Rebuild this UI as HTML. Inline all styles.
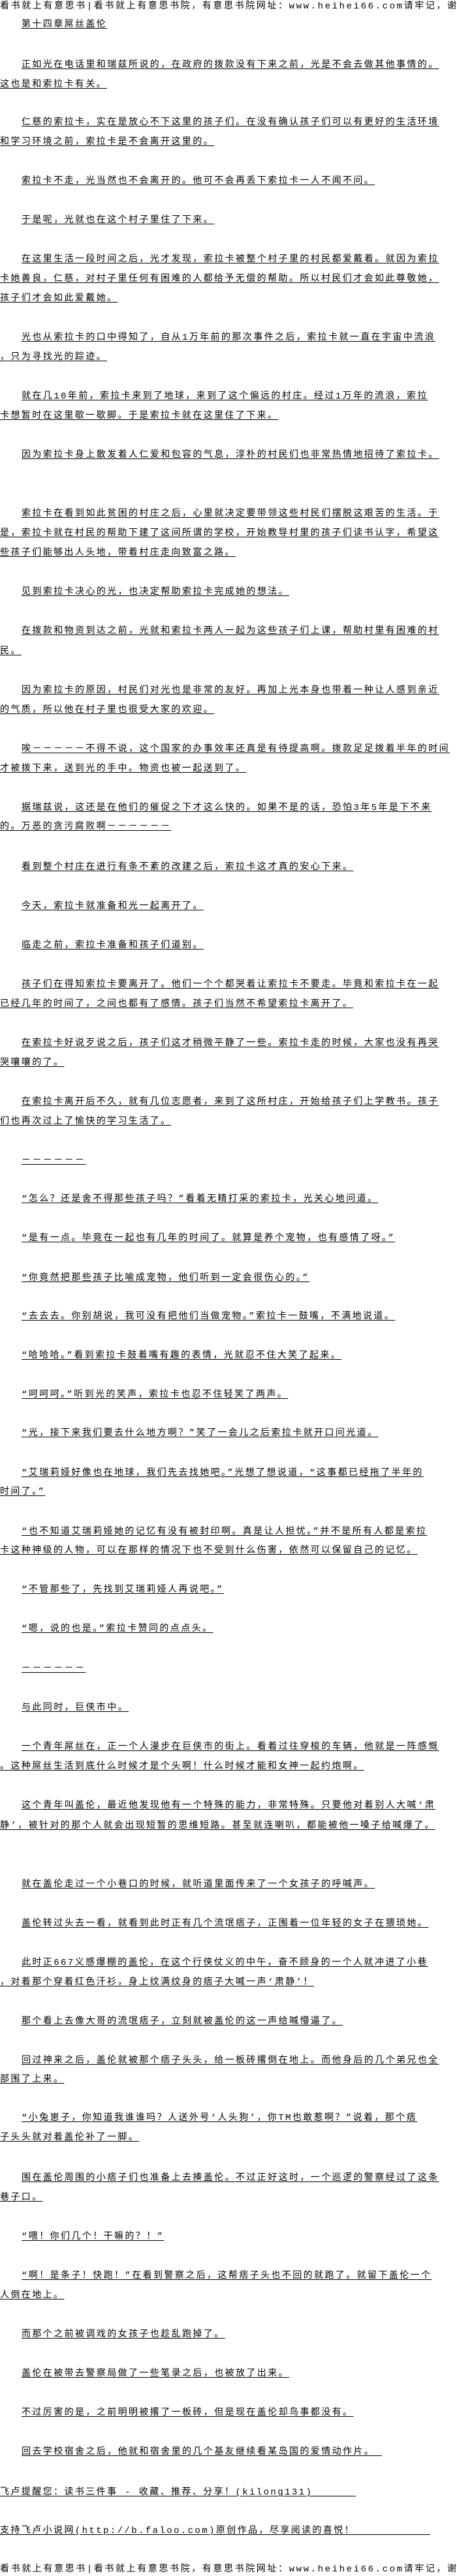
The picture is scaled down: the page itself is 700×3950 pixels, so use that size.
<!DOCTYPE html>
<html><head><meta charset="utf-8">
<style>
html,body{margin:0;padding:0;background:#fff;}
body{width:700px;height:3950px;position:relative;overflow:hidden;}
.l{position:absolute;left:0;white-space:pre;font-family:"Liberation Mono","Noto Sans CJK SC",monospace;font-size:14px;line-height:18px;letter-spacing:2.4px;color:#000;text-decoration:underline;text-underline-offset:2px;}
.i{left:33px;}
.h{text-decoration:none;letter-spacing:2.6px;}
</style></head><body>
<div class="l h" style="top:1px">看书就上有意思书|看书就上有意思书院，有意思书院网址：www.heihei66.com请牢记，谢谢</div>
<div class="l i" style="top:29px">第十四章屌丝盖伦</div>
<div class="l i" style="top:91px">正如光在电话里和瑞兹所说的，在政府的拨款没有下来之前，光是不会去做其他事情的。</div>
<div class="l" style="top:121px">这也是和索拉卡有关。</div>
<div class="l i" style="top:179px">仁慈的索拉卡，实在是放心不下这里的孩子们。在没有确认孩子们可以有更好的生活环境</div>
<div class="l" style="top:209px">和学习环境之前，索拉卡是不会离开这里的。</div>
<div class="l i" style="top:269px">索拉卡不走，光当然也不会离开的。他可不会再丢下索拉卡一人不闻不问。</div>
<div class="l i" style="top:329px">于是呢，光就也在这个村子里住了下来。</div>
<div class="l i" style="top:389px">在这里生活一段时间之后，光才发现，索拉卡被整个村子里的村民都爱戴着。就因为索拉</div>
<div class="l" style="top:419px">卡她善良，仁慈，对村子里任何有困难的人都给予无偿的帮助。所以村民们才会如此尊敬她，</div>
<div class="l" style="top:449px">孩子们才会如此爱戴她。</div>
<div class="l i" style="top:509px">光也从索拉卡的口中得知了，自从1万年前的那次事件之后，索拉卡就一直在宇宙中流浪</div>
<div class="l" style="top:539px">，只为寻找光的踪迹。</div>
<div class="l i" style="top:599px">就在几10年前，索拉卡来到了地球，来到了这个偏远的村庄。经过1万年的流浪，索拉</div>
<div class="l" style="top:629px">卡想暂时在这里歇一歇脚。于是索拉卡就在这里住了下来。</div>
<div class="l i" style="top:689px">因为索拉卡身上散发着人仁爱和包容的气息，淳朴的村民们也非常热情地招待了索拉卡。</div>
<div class="l i" style="top:779px">索拉卡在看到如此贫困的村庄之后，心里就决定要带领这些村民们摆脱这艰苦的生活。于</div>
<div class="l" style="top:809px">是，索拉卡就在村民的帮助下建了这间所谓的学校，开始教导村里的孩子们读书认字，希望这</div>
<div class="l" style="top:839px">些孩子们能够出人头地，带着村庄走向致富之路。</div>
<div class="l i" style="top:899px">见到索拉卡决心的光，也决定帮助索拉卡完成她的想法。</div>
<div class="l i" style="top:959px">在拨款和物资到达之前，光就和索拉卡两人一起为这些孩子们上课，帮助村里有困难的村</div>
<div class="l" style="top:990px">民。</div>
<div class="l i" style="top:1050px">因为索拉卡的原因，村民们对光也是非常的友好。再加上光本身也带着一种让人感到亲近</div>
<div class="l" style="top:1080px">的气质，所以他在村子里也很受大家的欢迎。</div>
<div class="l i" style="top:1140px">唉－－－－－不得不说，这个国家的办事效率还真是有待提高啊。拨款足足拨着半年的时间</div>
<div class="l" style="top:1170px">才被拨下来，送到光的手中。物资也被一起送到了。</div>
<div class="l i" style="top:1230px">据瑞兹说，这还是在他们的催促之下才这么快的。如果不是的话，恐怕3年5年是下不来</div>
<div class="l" style="top:1259px">的。万恶的贪污腐败啊－－－－－－</div>
<div class="l i" style="top:1321px">看到整个村庄在进行有条不紊的改建之后，索拉卡这才真的安心下来。</div>
<div class="l i" style="top:1381px">今天，索拉卡就准备和光一起离开了。</div>
<div class="l i" style="top:1441px">临走之前，索拉卡准备和孩子们道别。</div>
<div class="l i" style="top:1501px">孩子们在得知索拉卡要离开了。他们一个个都哭着让索拉卡不要走。毕竟和索拉卡在一起</div>
<div class="l" style="top:1531px">已经几年的时间了，之间也都有了感情。孩子们当然不希望索拉卡离开了。</div>
<div class="l i" style="top:1591px">在索拉卡好说歹说之后，孩子们这才稍微平静了一些。索拉卡走的时候，大家也没有再哭</div>
<div class="l" style="top:1621px">哭嚷嚷的了。</div>
<div class="l i" style="top:1681px">在索拉卡离开后不久，就有几位志愿者，来到了这所村庄，开始给孩子们上学教书。孩子</div>
<div class="l" style="top:1711px">们也再次过上了愉快的学习生活了。</div>
<div class="l i" style="top:1771px">－－－－－－</div>
<div class="l i" style="top:1830px">“怎么？还是舍不得那些孩子吗？”看着无精打采的索拉卡，光关心地问道。</div>
<div class="l i" style="top:1890px">“是有一点。毕竟在一起也有几年的时间了。就算是养个宠物，也有感情了呀。”</div>
<div class="l i" style="top:1951px">“你竟然把那些孩子比喻成宠物，他们听到一定会很伤心的。”</div>
<div class="l i" style="top:2010px">“去去去。你别胡说，我可没有把他们当做宠物。”索拉卡一鼓嘴，不满地说道。</div>
<div class="l i" style="top:2070px">“哈哈哈。”看到索拉卡鼓着嘴有趣的表情，光就忍不住大笑了起来。</div>
<div class="l i" style="top:2130px">“呵呵呵。”听到光的笑声，索拉卡也忍不住轻笑了两声。</div>
<div class="l i" style="top:2189px">“光，接下来我们要去什么地方啊？”笑了一会儿之后索拉卡就开口问光道。</div>
<div class="l i" style="top:2250px">“艾瑞莉娅好像也在地球，我们先去找她吧。”光想了想说道，“这事都已经拖了半年的</div>
<div class="l" style="top:2279px">时间了。”</div>
<div class="l i" style="top:2340px">“也不知道艾瑞莉娅她的记忆有没有被封印啊。真是让人担忧。”并不是所有人都是索拉</div>
<div class="l" style="top:2369px">卡这种神级的人物，可以在那样的情况下也不受到什么伤害，依然可以保留自己的记忆。</div>
<div class="l i" style="top:2429px">“不管那些了，先找到艾瑞莉娅人再说吧。”</div>
<div class="l i" style="top:2489px">“嗯，说的也是。”索拉卡赞同的点点头。</div>
<div class="l i" style="top:2550px">－－－－－－</div>
<div class="l i" style="top:2610px">与此同时，巨侠市中。</div>
<div class="l i" style="top:2670px">一个青年屌丝在，正一个人漫步在巨侠市的街上。看着过往穿梭的车辆，他就是一阵感慨</div>
<div class="l" style="top:2700px">。这种屌丝生活到底什么时候才是个头啊！什么时候才能和女神一起约炮啊。</div>
<div class="l i" style="top:2760px">这个青年叫盖伦，最近他发现他有一个特殊的能力，非常特殊。只要他对着别人大喊‘肃</div>
<div class="l" style="top:2791px">静’，被针对的那个人就会出现短暂的思维短路。甚至就连喇叭，都能被他一嗓子给喊爆了。</div>
<div class="l i" style="top:2881px">就在盖伦走过一个小巷口的时候，就听道里面传来了一个女孩子的呼喊声。</div>
<div class="l i" style="top:2941px">盖伦转过头去一看，就看到此时正有几个流氓痞子，正围着一位年轻的女子在猥琐她。</div>
<div class="l i" style="top:3001px">此时正667义感爆棚的盖伦，在这个行侠仗义的中午，奋不顾身的一个人就冲进了小巷</div>
<div class="l" style="top:3031px">，对着那个穿着红色汗衫，身上纹满纹身的痞子大喊一声‘肃静’！</div>
<div class="l i" style="top:3091px">那个看上去像大哥的流氓痞子，立刻就被盖伦的这一声给喊懵逼了。</div>
<div class="l i" style="top:3151px">回过神来之后，盖伦就被那个痞子头头，给一板砖撂倒在地上。而他身后的几个弟兄也全</div>
<div class="l" style="top:3180px">部围了上来。</div>
<div class="l i" style="top:3239px">“小兔崽子，你知道我谁谁吗？人送外号‘人头狗’，你TM也敢惹啊？”说着，那个痞</div>
<div class="l" style="top:3269px">子头头就对着盖伦补了一脚。</div>
<div class="l i" style="top:3331px">围在盖伦周围的小痞子们也准备上去揍盖伦。不过正好这时，一个巡逻的警察经过了这条</div>
<div class="l" style="top:3361px">巷子口。</div>
<div class="l i" style="top:3421px">“喂！你们几个！干嘛的？！”</div>
<div class="l i" style="top:3481px">“啊！是条子！快跑！”在看到警察之后，这帮痞子头也不回的就跑了。就留下盖伦一个</div>
<div class="l" style="top:3511px">人倒在地上。</div>
<div class="l i" style="top:3571px">而那个之前被调戏的女孩子也趁乱跑掉了。</div>
<div class="l i" style="top:3631px">盖伦在被带去警察局做了一些笔录之后，也被放了出来。</div>
<div class="l i" style="top:3691px">不过厉害的是，之前明明被撂了一板砖，但是现在盖伦却鸟事都没有。</div>
<div class="l i" style="top:3751px">回去学校宿舍之后，他就和宿舍里的几个基友继续看某岛国的爱情动作片。 </div>
<div class="l" style="top:3813px">飞卢提醒您：读书三件事 - 收藏、推荐、分享！(kilong131)　　　　</div>
<div class="l" style="top:3872px">支持飞卢小说网(http://b.faloo.com)原创作品，尽享阅读的喜悦！　　　　　　　</div>
<div class="l h" style="top:3931px">看书就上有意思书|看书就上有意思书院，有意思书院网址：www.heihei66.com请牢记，谢谢</div>
</body></html>
